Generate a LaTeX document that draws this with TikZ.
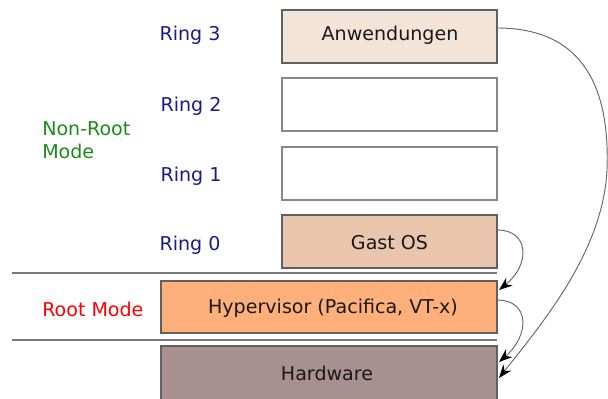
\documentclass[tikz,border=0pt]{standalone}
\usepackage{fontspec}
\setmainfont{DejaVu Sans}
\usetikzlibrary{arrows.meta}
\definecolor{appfill}{HTML}{F4E4D8}
\definecolor{guestfill}{HTML}{E8C5AC}
\definecolor{hypfill}{HTML}{FFB07A}
\definecolor{hwfill}{HTML}{A89090}
\definecolor{ringblue}{HTML}{1A1A8C}
\definecolor{modegreen}{HTML}{1A8C1A}
\definecolor{edgegray}{HTML}{606060}
\tikzset{
  layer/.style={draw=edgegray, line width=1pt, inner sep=0pt},
  ringlabel/.style={text=ringblue, font=\fontsize{14.3}{17.5}\selectfont, anchor=center},
  boxtext/.style={font=\fontsize{14.3}{17.5}\selectfont, text=black!90},
  sep/.style={draw=edgegray!85, line width=1pt},
  flow/.style={draw=black!60, line width=0.7pt, -{Stealth[length=10pt,width=7.5pt,color=black]}}
}
\begin{document}
\begin{tikzpicture}[x=0.75pt,y=-0.75pt]
\useasboundingbox (0,0) rectangle (608,399);
\clip (0,0) rectangle (608,399);
% privilege layers
\draw[layer, fill=appfill] (282,10) rectangle (497,63);
\node[boxtext] (app) at (390,35) {Anwendungen};
\coordinate (appR) at (497,28);
\draw[layer, fill=white, draw=edgegray!75] (282,78) rectangle (497,131);
\draw[layer, fill=white, draw=edgegray!75] (282,147) rectangle (497,200);
\draw[layer, fill=guestfill] (282,215) rectangle (497,268);
\node[boxtext] (guest) at (389.5,243) {Gast OS};
\coordinate (guestR) at (497,230);
\draw[layer, fill=hypfill] (161,281) rectangle (497,333);
\node[boxtext] (hyp) at (333,308) {Hypervisor (Pacifica, VT-x)};
\coordinate (hypTop) at (499,290);
\coordinate (hypR) at (497,300);
\draw[layer, fill=hwfill] (161,346) rectangle (497,410);
\node[boxtext] (hw) at (327,373) {Hardware};
\coordinate (hwA) at (499,362);
\coordinate (hwB) at (499,378);
% mode separators
\draw[sep] (12,273) -- (497,273);
\draw[sep] (12,340) -- (497,340);
% labels
\node[ringlabel] (r3) at (190,35) {Ring 3};
\node[ringlabel] (r2) at (191,106) {Ring 2};
\node[ringlabel] (r1) at (191,176) {Ring 1};
\node[ringlabel] (r0) at (190,245) {Ring 0};
\node[boxtext, text=modegreen, align=left, anchor=west, inner sep=0pt] (nonroot) at (42,140) {Non-Root\\Mode};
\node[boxtext, text=red, anchor=west, inner sep=0pt] (root) at (42,309) {Root Mode};
% transitions
\draw[flow] (appR) .. controls (585,28) and (610,90) .. (607,170) .. controls (603,250) and (545,320) .. (hwB);
\draw[flow] (guestR) .. controls (530,230) and (530,265) .. (hypTop);
\draw[flow] (hypR) .. controls (530,300) and (530,335) .. (hwA);
\end{tikzpicture}
\end{document}
